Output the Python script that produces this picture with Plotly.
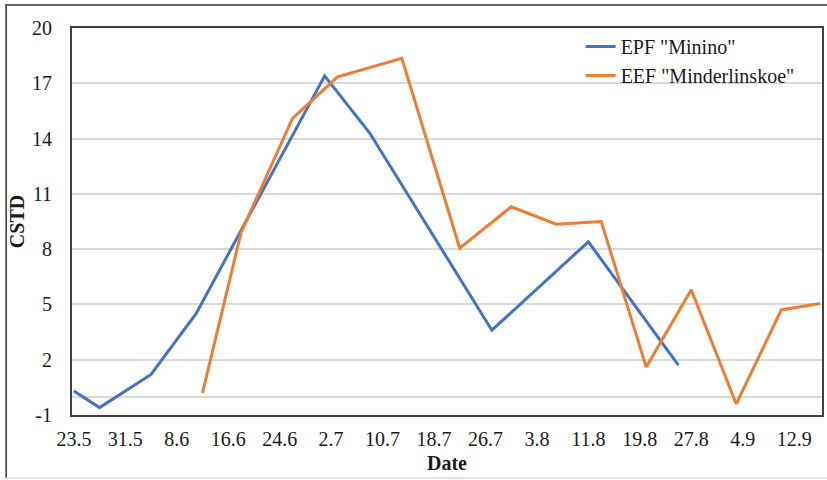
import plotly.graph_objects as go

# Data
epf_dates = ["2019-05-23", "2019-05-27", "2019-06-04", "2019-06-11", "2019-07-01",
             "2019-07-08", "2019-07-27", "2019-08-11", "2019-08-25"]
epf_values = [0.3, -0.6, 1.2, 4.5, 17.4, 14.3, 3.6, 8.4, 1.7]

eef_dates = ["2019-06-12", "2019-06-18", "2019-06-26", "2019-07-03", "2019-07-13",
             "2019-07-22", "2019-07-30", "2019-08-06", "2019-08-13", "2019-08-20",
             "2019-08-27", "2019-09-03", "2019-09-10", "2019-09-16"]
eef_values = [0.2, 8.9, 15.1, 17.35, 18.35, 8.05, 10.3, 9.35, 9.5, 1.6,
              5.8, -0.4, 4.7, 5.05]

y_tick_values = [-1, 2, 5, 8, 11, 14, 17, 20]
y_tick_labels = ["-1", "2", "5", "8", "11", "14", "17", "20"]

series_names = ['EPF "Minino"', 'EEF "Minderlinskoe"']
colors = ["#4472C4", "#ED7D31"]

W, H = 827, 480
ML, MR, MT, MB = 72, 3, 28, 65
PW, PH = W - ML - MR, H - MT - MB

FONT = "Liberation Serif, Times New Roman, serif"
TXT = "#1a1a1a"

fig = go.Figure()
fig.add_trace(go.Scatter(x=epf_dates, y=epf_values, mode="lines", name=series_names[0],
                         line=dict(color=colors[0], width=3)))
fig.add_trace(go.Scatter(x=eef_dates, y=eef_values, mode="lines", name=series_names[1],
                         line=dict(color=colors[1], width=3)))

def px_x(p):
    return (p - ML) / PW

def px_y(p):
    return (H - MB - p) / PH

# outer chart frame (top/left dark, bottom light)
fig.add_shape(type="line", xref="paper", yref="paper",
              x0=px_x(5), x1=px_x(830), y0=px_y(5), y1=px_y(5),
              line=dict(color="#303030", width=1.5))
fig.add_shape(type="line", xref="paper", yref="paper",
              x0=px_x(6), x1=px_x(6), y0=px_y(5), y1=px_y(478),
              line=dict(color="#303030", width=1.5))
fig.add_shape(type="line", xref="paper", yref="paper",
              x0=px_x(6), x1=px_x(830), y0=px_y(478), y1=px_y(478),
              line=dict(color="#DDDDDD", width=1.5))

fig.update_layout(
    width=W, height=H,
    margin=dict(l=ML, r=MR, t=MT, b=MB),
    paper_bgcolor="white", plot_bgcolor="white",
    font=dict(family=FONT, size=20, color=TXT),
    showlegend=True,
    legend=dict(x=px_x(582), y=px_y(27), xanchor="left", yanchor="top",
                bgcolor="rgba(0,0,0,0)", font=dict(family=FONT, size=20, color=TXT),
                tracegroupgap=0, itemwidth=30),
    xaxis=dict(
        type="date",
        range=["2019-05-22 17:00", "2019-09-16 08:00"],
        tick0="2019-05-23", dtick=8 * 86400000,
        tickformat="%-d.%-m",
        showgrid=False,
        showline=True, mirror=True, linecolor="#404040", linewidth=2,
        ticks="", ticklabelstandoff=5,
        tickfont=dict(family=FONT, size=20, color=TXT),
        title=dict(text="<b>Date</b>", font=dict(family=FONT, size=20, color=TXT), standoff=7),
    ),
    yaxis=dict(
        range=[-1, 20], tickmode="array", tickvals=y_tick_values, ticktext=y_tick_labels,
        showgrid=True, gridcolor="#D9D9D9", gridwidth=1.5,
        zeroline=True, zerolinecolor="#D9D9D9", zerolinewidth=1.5,
        showline=True, mirror=True, linecolor="#404040", linewidth=2,
        ticks="", ticklabelstandoff=14,
        tickfont=dict(family=FONT, size=20, color=TXT),
        title=dict(text="<b>CSTD</b>", font=dict(family=FONT, size=20, color=TXT), standoff=2),
    ),
)

fig.write_html("out.html", config={"displayModeBar": False},
               post_script="document.body.style.margin='0';")
